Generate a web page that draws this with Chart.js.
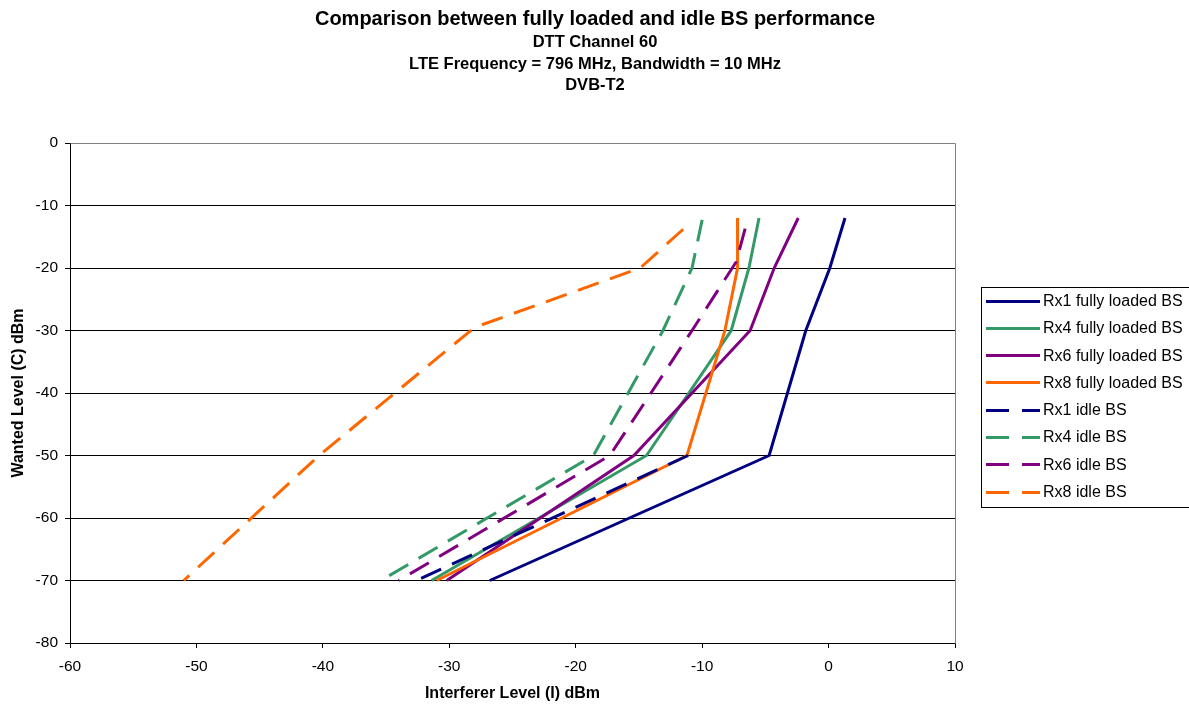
<!DOCTYPE html>
<html>
<head>
<meta charset="utf-8">
<script src="https://cdn.jsdelivr.net/npm/chart.js@4.4.1/dist/chart.umd.min.js"></script>
<style>
html,body{margin:0;padding:0;background:#fff;}
#wrap{width:1189px;height:706px;position:relative;}
</style>
</head>
<body>
<div id="wrap"><canvas id="c" width="1189" height="706"></canvas></div>
<script>
// ---- Data ----
const seriesLabels = ["Rx1 fully loaded BS","Rx4 fully loaded BS","Rx6 fully loaded BS","Rx8 fully loaded BS",
                      "Rx1 idle BS","Rx4 idle BS","Rx6 idle BS","Rx8 idle BS"];
const seriesColors = ["#000080","#339966","#800080","#FF6600","#000080","#339966","#800080","#FF6600"];

// Wanted level (C) dBm for fully loaded series
const loadedC   = [-12, -20, -30, -50, -70];
const rx1LoadedI = [1.3, 0.1, -1.8, -4.7, -26.8];
const rx4LoadedI = [-5.5, -6.3, -7.7, -14.4, -31.4];
const rx6LoadedI = [-2.4, -4.3, -6.2, -15.4, -30.2];
const rx8LoadedI = [-7.2, -7.2, -8.2, -11.2, -31.0];

// Idle series
const rx1IdleC = [-50, -70];
const rx1IdleI = [-11.1, -32.6];
const rx4IdleC = [-12.3, -20, -30, -50, -70];
const rx4IdleI = [-10.0, -10.8, -13.1, -18.6, -35.4];
const rx6IdleC = [-13.7, -19, -30, -50, -70];
const rx6IdleI = [-6.6, -7.3, -10.8, -17.3, -34.0];
const rx8IdleC = [-13.8, -20, -29.5, -50, -70];
const rx8IdleI = [-11.5, -14.9, -28.0, -40.3, -51.0];

const xTicks = [-60, -50, -40, -30, -20, -10, 0, 10];
const yTicks = [0, -10, -20, -30, -40, -50, -60, -70, -80];

const titleText = "Comparison between fully loaded and idle BS performance";
const subtitleLines = ["DTT Channel 60", "LTE Frequency = 796 MHz, Bandwidth = 10 MHz", "DVB-T2"];
const xTitle = "Interferer Level (I) dBm";
const yTitle = "Wanted Level (C) dBm";

// ---- Build datasets ----
function pts(xs, ys){ return xs.map((x,i)=>({x:x, y:ys[i]})); }
const seriesData = [
  pts(rx1LoadedI, loadedC), pts(rx4LoadedI, loadedC), pts(rx6LoadedI, loadedC), pts(rx8LoadedI, loadedC),
  pts(rx1IdleI, rx1IdleC), pts(rx4IdleI, rx4IdleC), pts(rx6IdleI, rx6IdleC), pts(rx8IdleI, rx8IdleC)
];
const DASH = [22, 12];
const datasets = seriesData.map((d,i)=>({
  label: seriesLabels[i],
  data: d,
  borderColor: seriesColors[i],
  backgroundColor: seriesColors[i],
  borderWidth: 3,
  borderDash: i >= 4 ? DASH : [],
  borderCapStyle: 'butt',
  borderJoinStyle: 'miter',
  pointRadius: 0,
  pointHoverRadius: 0,
  tension: 0,
  fill: false,
  showLine: true,
  order: -i
}));

const FONT = "'Liberation Sans', Arial, sans-serif";

const decorPlugin = {
  id: 'decor',
  beforeDatasetsDraw(chart){
    const ctx = chart.ctx, a = chart.chartArea;
    ctx.save();
    ctx.strokeStyle = '#808080';
    ctx.lineWidth = 1;
    ctx.beginPath();
    ctx.moveTo(Math.round(a.left)+0.5, Math.round(a.top)+0.5);
    ctx.lineTo(Math.round(a.right)+0.5, Math.round(a.top)+0.5);
    ctx.lineTo(Math.round(a.right)+0.5, Math.round(a.bottom)+0.5);
    ctx.stroke();
    ctx.restore();
  },
  afterDraw(chart){
    const ctx = chart.ctx;
    ctx.save();
    // Titles
    ctx.fillStyle = '#000';
    ctx.textAlign = 'center';
    ctx.textBaseline = 'middle';
    ctx.font = "bold 20px " + FONT;
    ctx.fillText(titleText, 595, 19);
    ctx.font = "bold 16.5px " + FONT;
    const subY = [42.5, 64, 85.5];
    subtitleLines.forEach((t,i)=>ctx.fillText(t, 595, subY[i]));
    // Legend
    const lx = 981, ly = 287, lw = 220, lh = 220;
    ctx.strokeStyle = '#000';
    ctx.lineWidth = 1;
    ctx.strokeRect(lx+0.5, ly+0.5, lw, lh);
    ctx.textAlign = 'left';
    ctx.font = "16px " + FONT;
    chart.data.datasets.forEach((ds,i)=>{
      const y = 300.5 + i*27.3;
      ctx.save();
      ctx.strokeStyle = ds.borderColor;
      ctx.lineWidth = 3;
      ctx.lineCap = 'butt';
      ctx.setLineDash(ds.borderDash && ds.borderDash.length ? [23,13] : []);
      ctx.beginPath();
      ctx.moveTo(986, Math.round(y)+0.5);
      ctx.lineTo(1040, Math.round(y)+0.5);
      ctx.stroke();
      ctx.restore();
      ctx.fillStyle = '#000';
      ctx.fillText(ds.label, 1043, y+1);
    });
    ctx.restore();
  }
};

new Chart(document.getElementById('c'), {
  type: 'scatter',
  data: { datasets: datasets },
  plugins: [decorPlugin],
  options: {
    responsive: false,
    animation: false,
    events: [],
    layout: { padding: { top: 143, right: 234, left: 0, bottom: 0 } },
    plugins: {
      legend: { display: false },
      title: { display: false },
      tooltip: { enabled: false }
    },
    scales: {
      x: {
        type: 'linear',
        min: -60, max: 10,
        afterFit(s){ s.height = 63; },
        afterBuildTicks(s){ s.ticks = xTicks.map(v=>({value:v})); },
        ticks: { color: '#000', font: { family: FONT, size: 15.5 }, padding: 9, maxRotation: 0 },
        grid: { drawOnChartArea: false, drawTicks: true, tickLength: 5, tickColor: '#000', color: '#000' },
        border: { display: true, color: '#000', width: 1 },
        title: { display: true, text: xTitle, color: '#000', font: { family: FONT, size: 16, weight: 'bold' }, padding: { top: 0, bottom: 3 } }
      },
      y: {
        type: 'linear',
        min: -80, max: 0,
        afterFit(s){ s.width = 70; },
        afterBuildTicks(s){ s.ticks = yTicks.slice().reverse().map(v=>({value:v})); },
        ticks: { color: '#000', font: { family: FONT, size: 15.5 }, padding: 7 },
        grid: {
          drawOnChartArea: true, drawTicks: true, tickLength: 5, tickColor: '#000',
          color: (c)=> (c.tick && c.tick.value === 0) ? 'rgba(0,0,0,0)' : '#000',
          lineWidth: 1
        },
        border: { display: true, color: '#000', width: 1 },
        title: { display: true, text: yTitle, color: '#000', font: { family: FONT, size: 16, weight: 'bold' }, padding: { top: 9, bottom: 0 } }
      }
    }
  }
});
</script>
</body>
</html>
